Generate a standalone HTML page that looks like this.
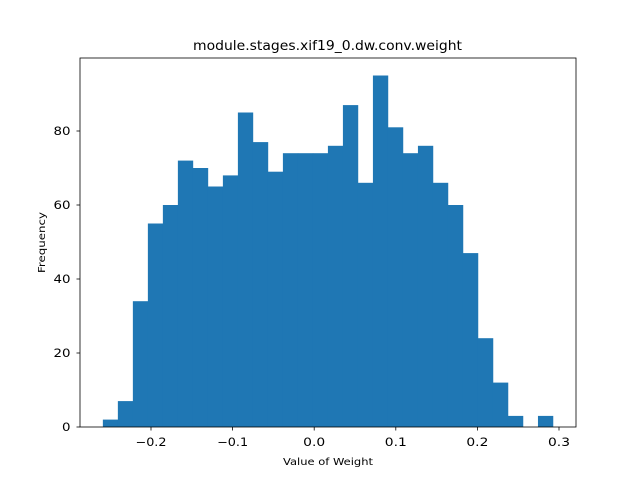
<!DOCTYPE html>
<html><head><meta charset="utf-8"><style>
body{margin:0;background:#fff;font-family:"Liberation Sans","DejaVu Sans",sans-serif}
svg text{font-family:"DejaVu Sans","Liberation Sans",sans-serif}
</style></head><body>
<svg id="chart" width="640" height="480" xmlns="http://www.w3.org/2000/svg">
<rect width="640" height="480" fill="#fff"/>
<text x="327.5" y="50" font-size="13.5" text-anchor="middle" textLength="269" lengthAdjust="spacingAndGlyphs">module.stages.xif19_0.dw.conv.weight</text>
<g id="bars"></g>
<rect x="80" y="58" width="496" height="369" fill="none" stroke="#000" stroke-width="0.8"/>
<g id="xticks"></g><g id="yticks"></g>
<text x="328" y="465" font-size="10" text-anchor="middle" textLength="90" lengthAdjust="spacingAndGlyphs">Value of Weight</text>
<text x="0" y="0" font-size="10" text-anchor="middle" textLength="61" lengthAdjust="spacingAndGlyphs" transform="translate(45,242.5) rotate(-90)">Frequency</text>
</svg>
<script>
const binStart = -0.259;
const binEnd = 0.2926;
const counts = [2,7,34,55,60,72,70,65,68,85,77,69,74,74,74,76,87,66,95,81,74,76,66,60,47,24,12,3,0,3];
const xTickValues = [-0.2,-0.1,0.0,0.1,0.2,0.3];
const xTickLabels = ["\u22120.2","\u22120.1","0.0","0.1","0.2","0.3"];
const yTickValues = [0,20,40,60,80];
const yTickLabels = ["0","20","40","60","80"];
const NS="http://www.w3.org/2000/svg";
function xs(v){return 314.2+v*816;}
function ys(v){return 427-v*3.7;}
const bars=document.getElementById('bars');
const w=(binEnd-binStart)/counts.length;
counts.forEach((c,i)=>{
  if(c<=0) return;
  const r=document.createElementNS(NS,'rect');
  const x0=xs(binStart+i*w), x1=xs(binStart+(i+1)*w);
  r.setAttribute('x',x0);r.setAttribute('width',x1-x0+0.3);
  r.setAttribute('y',ys(c));r.setAttribute('height',ys(0)-ys(c));
  r.setAttribute('fill','#1f77b4');
  
  
  bars.appendChild(r);
});
const xt=document.getElementById('xticks');
xTickValues.forEach((v,i)=>{
  const x=xs(v);
  const l=document.createElementNS(NS,'line');
  l.setAttribute('x1',x);l.setAttribute('x2',x);l.setAttribute('y1',427);l.setAttribute('y2',430.5);l.setAttribute('stroke','#000');l.setAttribute('stroke-width','0.8');
  
  
  xt.appendChild(l);
  const t=document.createElementNS(NS,'text');
  const lab=xTickLabels[i];
  t.setAttribute('x',x);t.setAttribute('y',446);t.setAttribute('font-size','11.5');t.setAttribute('text-anchor','middle');
  t.setAttribute('textLength', lab.length===4?31:22);t.setAttribute('lengthAdjust','spacingAndGlyphs');
  t.textContent=lab;
  
  
  xt.appendChild(t);
});
const yt=document.getElementById('yticks');
yTickValues.forEach((v,i)=>{
  const y=ys(v);
  const l=document.createElementNS(NS,'line');
  l.setAttribute('x1',76.5);l.setAttribute('x2',80);l.setAttribute('y1',y);l.setAttribute('y2',y);l.setAttribute('stroke','#000');l.setAttribute('stroke-width','0.8');
  
  
  yt.appendChild(l);
  const t=document.createElementNS(NS,'text');
  const lab=yTickLabels[i];
  t.setAttribute('x',70.5);t.setAttribute('y',y+4.2);t.setAttribute('font-size','11.5');t.setAttribute('text-anchor','end');
  t.setAttribute('textLength', lab.length*8.5);t.setAttribute('lengthAdjust','spacingAndGlyphs');
  t.textContent=lab;
  
  
  yt.appendChild(t);
});
</script>
</body></html>
